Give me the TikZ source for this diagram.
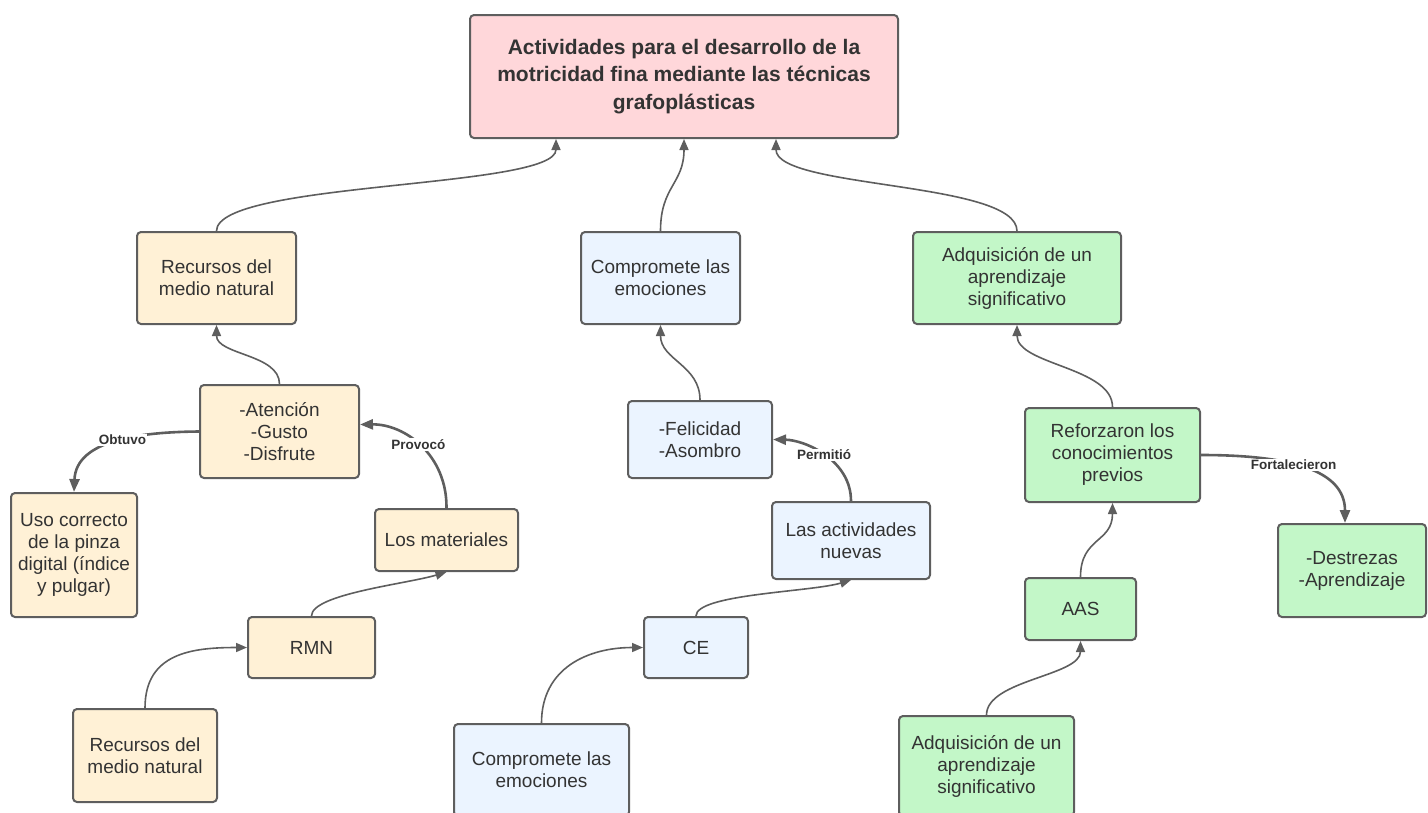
\documentclass[tikz,border=0pt]{standalone}
\usepackage{fontspec}
\setmainfont{Liberation Sans}
\usetikzlibrary{arrows.meta}
\definecolor{gris}{HTML}{5E5E5E}
\definecolor{texto}{HTML}{333333}
\definecolor{rosa}{HTML}{FFD7DA}
\definecolor{crema}{HTML}{FFF1D6}
\definecolor{celeste}{HTML}{EBF4FF}
\definecolor{verde}{HTML}{C3F7C8}
\tikzset{
  caja/.style={draw=gris,line width=2pt,rounded corners=4pt,align=center,inner sep=0pt,text=texto,font=\fontsize{19}{22}\selectfont},
  tam/.style 2 args={minimum width=#1pt,minimum height=#2pt},
  flecha/.style={draw=gris,line width=1.6pt,-{Triangle[length=11pt,width=9pt]}},
  enlace/.style={draw=gris,line width=2.6pt,-{Triangle[length=13pt,width=10pt]}},
  rotulo/.style={fill=white,text=texto,inner sep=1pt,font=\bfseries\fontsize{13.5}{15}\selectfont}
}
\begin{document}
\begin{tikzpicture}[x=1pt,y=-1pt] % mapa hecho a mano, posiciones en pixeles
\useasboundingbox (0,0) rectangle (1428,812);
\clip (0,0) rectangle (1428,812);

\node[caja,fill=rosa,tam={428}{123},font=\bfseries\fontsize{21}{27.5}\selectfont] (titulo) at (684,76.5) {Actividades para el desarrollo de la\\motricidad fina mediante las técnicas\\grafoplásticas};

\node[caja,fill=crema,tam={159}{92}] (rec1) at (216.5,278) {Recursos del\\medio natural};
\node[caja,fill=celeste,tam={159}{92}] (comp1) at (660.5,278) {Compromete las\\emociones};
\node[caja,fill=verde,tam={208}{92}] (adq1) at (1017,278) {Adquisición de un\\aprendizaje\\significativo};

\node[caja,fill=crema,tam={159}{93}] (aten) at (279.5,431.5) {-Atención\\-Gusto\\-Disfrute};
\node[caja,fill=crema,tam={126}{124}] (uso) at (74,555) {Uso correcto\\de la pinza\\digital (índice\\y pulgar)};
\node[caja,fill=crema,tam={143}{62}] (mat) at (446.5,540) {Los materiales};
\node[caja,fill=crema,tam={127}{61}] (rmn) at (311.5,647.5) {RMN};
\node[caja,fill=crema,tam={144}{93}] (rec2) at (145,755.5) {Recursos del\\medio natural};

\node[caja,fill=celeste,tam={144}{77}] (feli) at (700,439.5) {-Felicidad\\-Asombro};
\node[caja,fill=celeste,tam={158}{77}] (act) at (851,540.5) {Las actividades\\nuevas};
\node[caja,fill=celeste,tam={104}{61}] (ce) at (696,647.5) {CE};
\node[caja,fill=celeste,tam={175}{92}] (comp2) at (541.5,770) {Compromete las\\emociones};

\node[caja,fill=verde,tam={175}{94}] (refo) at (1112.5,455) {Reforzaron los\\conocimientos\\previos};
\node[caja,fill=verde,tam={148}{93}] (des) at (1352,570.5) {-Destrezas\\-Aprendizaje};
\node[caja,fill=verde,tam={111}{62}] (aas) at (1080.5,609) {AAS};
\node[caja,fill=verde,tam={175}{100}] (adq2) at (986.5,766) {Adquisición de un\\aprendizaje\\significativo};

\draw[flecha] (rec1.north) .. controls +(0,-50) and +(0,50) .. ([xshift=87pt]titulo.south west);
\draw[flecha] (comp1.north) .. controls +(0,-45) and +(0,45) .. (titulo.south);
\draw[flecha] (adq1.north) .. controls +(0,-50) and +(0,50) .. ([xshift=-123pt]titulo.south east);
\draw[flecha] (aten.north) .. controls +(0,-30) and +(0,30) .. (rec1.south);
\draw[flecha] (feli.north) .. controls +(0,-35) and +(0,35) .. (comp1.south);
\draw[flecha] (refo.north) .. controls +(0,-40) and +(0,40) .. (adq1.south);
\draw[flecha] (rmn.north) .. controls +(0,-22) and +(-40,12) .. (mat.south);
\draw[flecha] (rec2.north) .. controls +(0,-55) and +(-55,0) .. (rmn.west);
\draw[flecha] (comp2.north) .. controls +(0,-55) and +(-55,0) .. (ce.west);
\draw[flecha] (ce.north) .. controls +(0,-22) and +(-40,12) .. (act.south);
\draw[flecha] (aas.north) .. controls +(0,-40) and +(0,40) .. (refo.south);
\draw[flecha] (adq2.north) .. controls +(0,-35) and +(0,35) .. (aas.south);

\draw[enlace] (aten.west) .. controls (140,432) and (76,440) .. (uso.north) node[rotulo,pos=0.45] {Obtuvo};
\draw[enlace] (mat.north) .. controls (447,455) and (405,424) .. ([yshift=7pt]aten.east) node[rotulo,pos=0.52] {Provocó};
\draw[enlace] (act.north) .. controls (851,460) and (805,440) .. (feli.east) node[rotulo,pos=0.5] {Permitió};
\draw[enlace] (refo.east) .. controls (1290,455) and (1345,470) .. ([xshift=-7pt]des.north) node[rotulo,pos=0.42] {Fortalecieron};
\end{tikzpicture}
\end{document}
